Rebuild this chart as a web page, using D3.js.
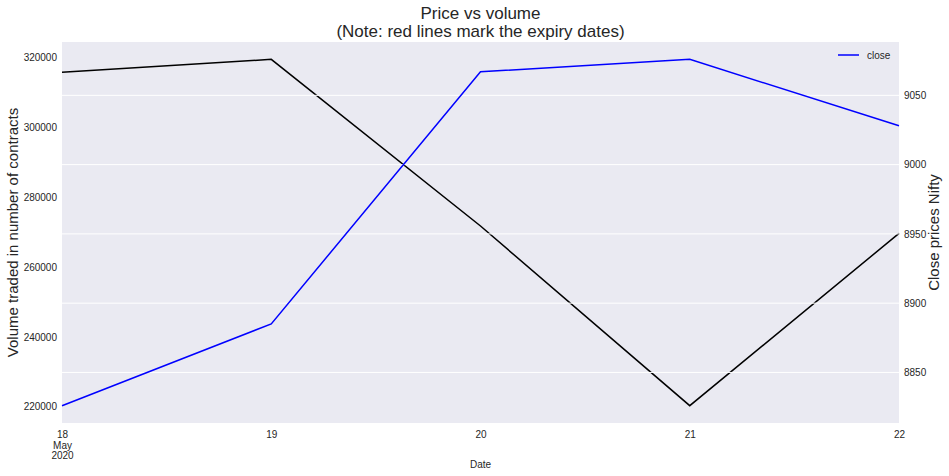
<!DOCTYPE html>
<html>
<head>
<meta charset="utf-8">
<script src="https://cdn.jsdelivr.net/npm/d3@7"></script>
<style>
  body { margin: 0; background: #fff; }
  text { font-family: "Liberation Sans", Arial, sans-serif; fill: #262626; }
</style>
</head>
<body>
<svg id="chart" width="949" height="476"></svg>
<script>
// data
const dates = ['2020-05-18', '2020-05-19', '2020-05-20', '2020-05-21', '2020-05-22'];
const volume = [315700, 319400, 271700, 220300, 269600];
const close = [8826, 8885, 9067, 9076, 9028];
const volumeTicks = [220000, 240000, 260000, 280000, 300000, 320000];
const closeTicks = [8850, 8900, 8950, 9000, 9050];

const svg = d3.select('#chart');
const m = {left: 62, right: 899, top: 42, bottom: 423};
const parse = d3.timeParse('%Y-%m-%d');
const days = dates.map(parse);

let x = d3.scaleTime()
  .domain(d3.extent(days))
  .range([m.left, m.right]);

// matplotlib style 5% margins
function padded(vals) {
  let [lo, hi] = d3.extent(vals);
  let pad = (hi - lo) * 0.05;
  return [lo - pad, hi + pad];
}

let yL = d3.scaleLinear().domain(padded(volume)).range([m.bottom, m.top]);
let yR = d3.scaleLinear().domain(padded(close)).range([m.bottom, m.top]);

svg.append('rect')
  .attr('x', m.left).attr('y', m.top)
  .attr('width', m.right - m.left).attr('height', m.bottom - m.top)
  .attr('fill', '#eaeaf2');

let lineL = d3.line().x((d, i) => x(days[i])).y(d => yL(d));
let lineR = d3.line().x((d, i) => x(days[i])).y(d => yR(d));

svg.append('path')
  .attr('d', lineL(volume))
  .attr('fill', 'none')
  .attr('stroke', 'black')
  .attr('stroke-width', 1.5);

// right axis grid sits over the volume line
svg.append('g')
  .selectAll('line')
  .data(closeTicks).enter()
  .append('line')
  .attr('x1', m.left).attr('x2', m.right)
  .attr('y1', d => yR(d)).attr('y2', d => yR(d))
  .attr('stroke', 'white')
  .attr('stroke-width', 1);

svg.append('path')
  .attr('d', lineR(close))
  .attr('fill', 'none')
  .attr('stroke', 'blue')
  .attr('stroke-width', 1.5);

// left axis
let axL = svg.append('g')
  .attr('transform', 'translate(' + m.left + ',0)')
  .call(d3.axisLeft(yL).tickValues(volumeTicks).tickSize(0).tickPadding(5).tickFormat(d3.format('d')));
axL.select('.domain').remove();
axL.selectAll('text').style('font-size', '10px').attr('fill', '#262626');

// right axis
let axR = svg.append('g')
  .attr('transform', 'translate(' + m.right + ',0)')
  .call(d3.axisRight(yR).tickValues(closeTicks).tickSize(0).tickPadding(5).tickFormat(d3.format('d')));
axR.select('.domain').remove();
axR.selectAll('text').style('font-size', '10px').attr('fill', '#262626');

// x axis
let axX = svg.append('g')
  .attr('transform', 'translate(0,' + m.bottom + ')')
  .call(d3.axisBottom(x).tickValues(days).tickSize(0).tickPadding(8).tickFormat(d3.timeFormat('%-d')));
axX.select('.domain').remove();
axX.selectAll('text').style('font-size', '10px').attr('fill', '#262626');
axX.selectAll('.tick').filter((d, i) => i === 0).each(function() {
  let t = d3.select(this).select('text');
  t.append('tspan').attr('x', 0).attr('dy', '1.05em').text('May');
  t.append('tspan').attr('x', 0).attr('dy', '1.05em').text('2020');
});

svg.append('text')
  .attr('x', (m.left + m.right) / 2).attr('y', 468)
  .attr('text-anchor', 'middle')
  .style('font-size', '10px')
  .text('Date');

// axis titles
svg.append('text')
  .attr('transform', 'translate(18,' + (m.top + m.bottom) / 2 + ') rotate(-90)')
  .attr('text-anchor', 'middle')
  .style('font-size', '15px')
  .text('Volume traded in number of contracts');

svg.append('text')
  .attr('transform', 'translate(939,' + (m.top + m.bottom) / 2 + ') rotate(-90)')
  .attr('text-anchor', 'middle')
  .style('font-size', '15px')
  .text('Close prices Nifty');

// title
let title = svg.append('text')
  .attr('x', (m.left + m.right) / 2).attr('y', 19)
  .attr('text-anchor', 'middle')
  .style('font-size', '17px');
title.append('tspan').attr('x', (m.left + m.right) / 2).text('Price vs volume');
title.append('tspan').attr('x', (m.left + m.right) / 2).attr('dy', 18).text('(Note: red lines mark the expiry dates)');

// legend
let lg = svg.append('g').attr('transform', 'translate(838,55)');
lg.append('line').attr('x1', 0).attr('x2', 21).attr('stroke', 'blue').attr('stroke-width', 1.5);
lg.append('text').attr('x', 29).attr('y', 3.5).style('font-size', '10px').text('close');
</script>
</body>
</html>
